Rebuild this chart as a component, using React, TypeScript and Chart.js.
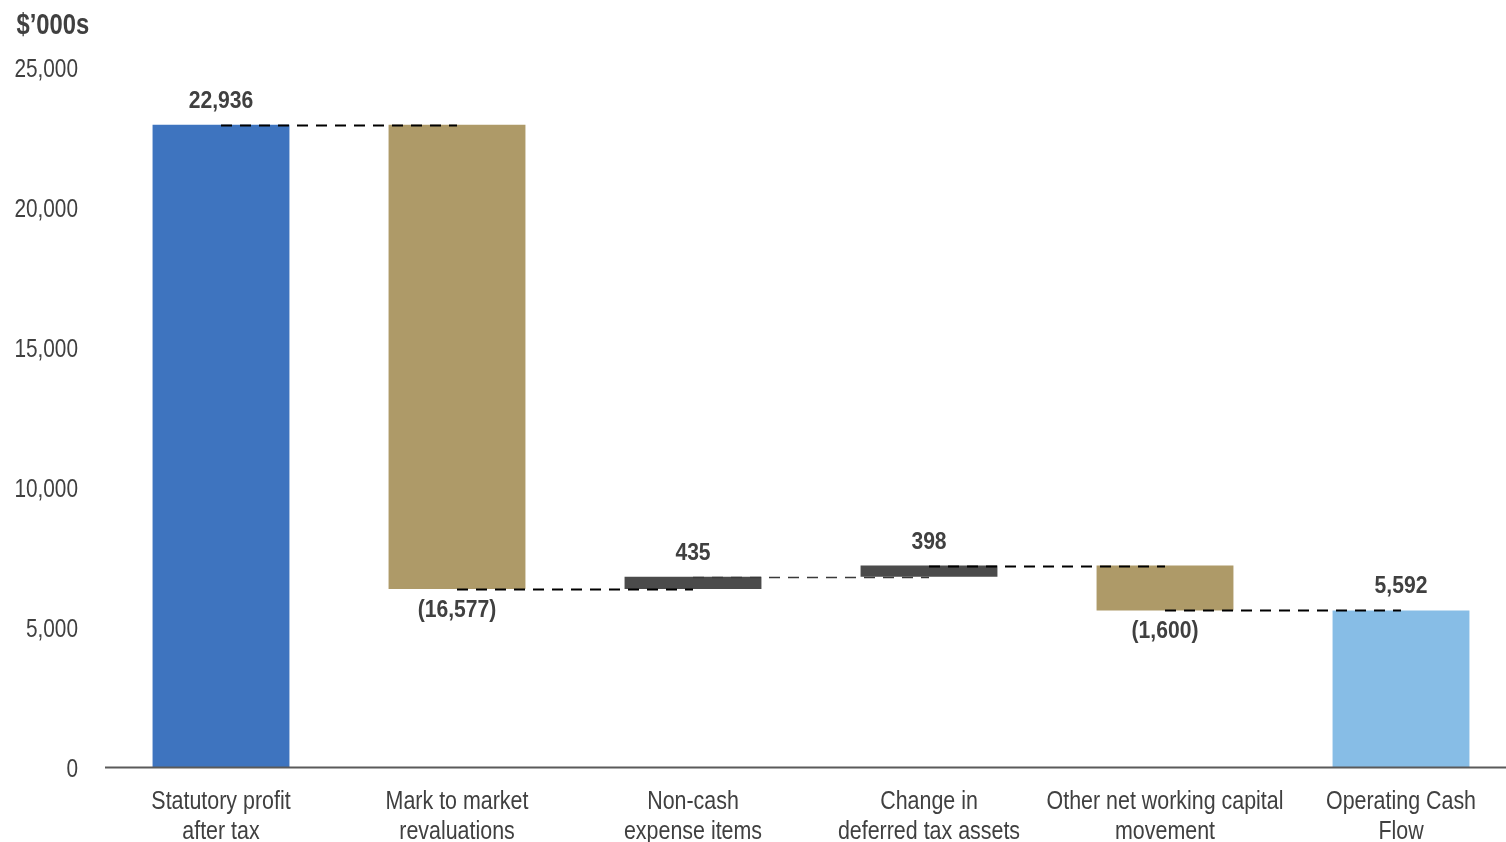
import React, { useEffect, useRef } from "react";
import { Chart, registerables } from "chart.js";

Chart.register(...registerables);

// Waterfall: opening profit, four adjustments, closing operating cash flow ($'000s)
const categories: string[][] = [
  ["Statutory profit", "after tax"],
  ["Mark to market", "revaluations"],
  ["Non-cash", "expense items"],
  ["Change in", "deferred tax assets"],
  ["Other net working capital", "movement"],
  ["Operating Cash", "Flow"],
];
const openingValue = 22936;
const adjustments = [-16577, 435, 398, -1600];
const closingValue = 5592;
const barColors = ["#3E74BF", "#AE9A68", "#4B4B4B", "#4B4B4B", "#AE9A68", "#87BDE6"];
const yTickValues = [0, 5000, 10000, 15000, 20000, 25000];

const FONT = '"Liberation Sans", Arial, sans-serif';
const TEXT = "#404040";

const fmt = (v: number) => Math.abs(v).toLocaleString("en-US");

// floating ranges for each bar, and the running level after each step
const ranges: [number, number][] = [];
const levels: number[] = [];
const shownValues: number[] = [];
{
  ranges.push([0, openingValue]);
  levels.push(openingValue);
  shownValues.push(openingValue);
  let run = openingValue;
  for (const a of adjustments) {
    const next = run + a;
    ranges.push([Math.min(run, next), Math.max(run, next)]);
    shownValues.push(a);
    run = next;
    levels.push(run);
  }
  ranges.push([0, closingValue]);
  shownValues.push(closingValue);
}

// condensed text: draw with a horizontal squeeze
function narrowText(
  ctx: CanvasRenderingContext2D,
  text: string,
  x: number,
  y: number,
  font: string,
  align: CanvasTextAlign,
  squeeze: number
) {
  ctx.save();
  ctx.font = font;
  ctx.textAlign = align;
  ctx.textBaseline = "alphabetic";
  ctx.translate(x, y);
  ctx.scale(squeeze, 1);
  ctx.fillText(text, 0, 0);
  ctx.restore();
}

const overlayPlugin = {
  id: "waterfallOverlay",
  afterDatasetsDraw(chart: any) {
    const { ctx, scales, chartArea } = chart;
    const x = scales.x;
    const y = scales.y;
    const meta = chart.getDatasetMeta(0);
    ctx.save();
    ctx.fillStyle = TEXT;

    // category axis line
    const y0 = Math.round(y.getPixelForValue(0)) + 0.5;
    ctx.strokeStyle = "#5a5a5a";
    ctx.lineWidth = 1.8;
    ctx.beginPath();
    ctx.moveTo(chartArea.left + 2, y0);
    ctx.lineTo(chart.width, y0);
    ctx.stroke();

    // value axis labels
    y.ticks.forEach((t: any, i: number) => {
      const py = y.getPixelForTick(i);
      narrowText(ctx, fmt(t.value), 78, py + 9.5, `26px ${FONT}`, "right", 0.8);
    });

    // category labels
    categories.forEach((lines, i) => {
      const cx = x.getPixelForTick(i);
      lines.forEach((ln, j) => {
        narrowText(ctx, ln, cx, 808 - 767 + y0 + j * 30, `25.5px ${FONT}`, "center", 0.84);
      });
    });

    // dashed connectors between bar centres
    for (let i = 0; i < levels.length; i++) {
      const x1 = meta.data[i].x;
      const x2 = meta.data[i + 1].x;
      const yy = Math.round(y.getPixelForValue(levels[i])) + 0.5;
      const light = i === 2;
      ctx.strokeStyle = light ? "#3a3a3a" : "#000000";
      ctx.lineWidth = light ? 1.6 : 2.2;
      ctx.setLineDash([11, 8]);
      ctx.beginPath();
      ctx.moveTo(x1, yy);
      ctx.lineTo(x2, yy);
      ctx.stroke();
    }
    ctx.setLineDash([]);

    // value labels
    shownValues.forEach((v, i) => {
      const cx = meta.data[i].x;
      if (v >= 0) {
        narrowText(ctx, fmt(v), cx, y.getPixelForValue(ranges[i][1]) - 17, `bold 24px ${FONT}`, "center", 0.88);
      } else {
        narrowText(ctx, `(${fmt(v)})`, cx, y.getPixelForValue(ranges[i][0]) + 28, `bold 24px ${FONT}`, "center", 0.88);
      }
    });

    // unit title
    narrowText(ctx, "$\u2019000s", 16.5, 34, `bold 29px ${FONT}`, "left", 0.82);
    ctx.restore();
  },
};

export default function App() {
  const ref = useRef<HTMLCanvasElement | null>(null);

  useEffect(() => {
    if (!ref.current) return;
    const chart = new Chart(ref.current, {
      type: "bar",
      data: {
        labels: categories,
        datasets: [
          {
            data: ranges as any,
            backgroundColor: barColors,
            borderWidth: 0,
            barPercentage: 0.58,
            categoryPercentage: 1,
          },
        ],
      },
      options: {
        animation: false,
        responsive: false,
        devicePixelRatio: 1,
        layout: { padding: { top: 67, left: 0, right: 0, bottom: 0 } },
        plugins: { legend: { display: false }, tooltip: { enabled: false } },
        scales: {
          x: {
            grid: { display: false, drawTicks: false },
            border: { display: false },
            ticks: { display: false, autoSkip: false },
            afterFit(scale: any) {
              scale.height = 75;
            },
          },
          y: {
            min: 0,
            max: 25000,
            grid: { display: false, drawTicks: false },
            border: { display: false },
            afterBuildTicks(scale: any) {
              scale.ticks = yTickValues.map((v) => ({ value: v }));
            },
            ticks: { display: false },
            afterFit(scale: any) {
              scale.width = 103;
            },
          },
        },
      },
      plugins: [overlayPlugin],
    });
    return () => chart.destroy();
  }, []);

  return (
    <div
      style={{
        position: "fixed",
        left: 0,
        top: 0,
        width: 1506,
        height: 842,
        overflow: "hidden",
        background: "#ffffff",
      }}
    >
      <canvas ref={ref} width={1519} height={842} style={{ display: "block" }} />
    </div>
  );
}
